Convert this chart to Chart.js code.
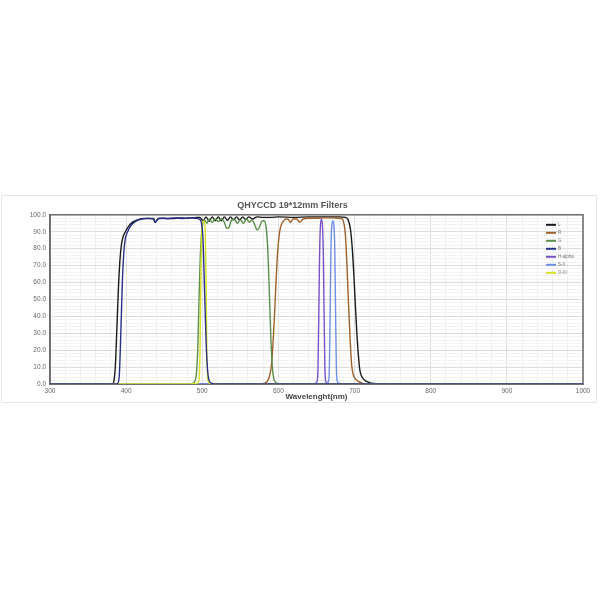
<!DOCTYPE html>
<html>
<head>
<meta charset="utf-8">
<script src="https://cdn.jsdelivr.net/npm/chart.js@4.4.1/dist/chart.umd.min.js"></script>
<style>
  html, body { margin: 0; padding: 0; background: #fff; }
  #caja { position: absolute; left: 1px; top: 195px; width: 594px; height: 206px; border: 1px solid #e4e4e4; }
  #caja canvas { display: block; }
</style>
</head>
<body>
<div id="caja"><canvas id="filtros" width="594" height="206"></canvas></div>
<script>
// Nombres de los filtros (orden de la leyenda)
const seriesNames = ['L', 'R', 'G', 'B', 'H-alpha', 'S-II', 'O-III'];
const seriesColors = ['#1a1a1a', '#a0602a', '#5a8f4a', '#27318a', '#7a52c8', '#6e8fe6', '#d6e024'];

// Curvas de transmisión: [longitud de onda (nm), transmisión (%)]
const lCurve = [[300,0],[382,0],[384,2],[386,12],[388,35],[390,58],[392,74],[394,83],[396,87],[399,90],[403,93],[408,95.5],[415,97],[425,97.8],[436,97.8],[438,95.5],[440,96.5],[443,97.8],[450,98],[460,97.8],[470,98.2],[480,98],[490,98.3],[497,98.5],[501,96.5],[505,98.8],[509,96.3],[513,98.8],[517,96.5],[521,98.8],[525,96.5],[529,98.8],[533,96.8],[537,98.8],[541,97],[545,98.8],[549,97],[553,98.8],[557,97.2],[561,98.8],[566,97.5],[572,98.8],[580,98.5],[590,98.5],[600,98.8],[620,98.5],[640,98.8],[660,98.8],[680,98.8],[688,98.5],[691,97.5],[693,95],[695,90],[697,80],[699,65],[701,47],[703,30],[705,17],[707,8],[710,4],[714,2],[719,1],[725,0.3],[732,0],[1000,0]];
const rCurve = [[300,0],[575,0],[582,0.5],[586,2],[589,6],[591,12],[593,25],[595,42],[597,62],[599,78],[601,88],[603,93],[606,96],[610,97.5],[613,97.3],[616,95.5],[619,97.5],[624,97.5],[628,95.5],[632,97.5],[640,98],[650,98],[660,98.2],[670,98.2],[680,98],[684,97.5],[686,95],[688,88],[690,70],[692,48],[694,28],[696,12],[698,6],[701,3],[705,1.5],[710,0.5],[716,0],[1000,0]];
const gCurve = [[300,0],[486,0],[489,1],[492,5],[494,20],[496,55],[498,82],[500,93],[503,97],[506,95],[509,97.5],[513,95.5],[517,97.5],[521,96],[525,97.8],[529,95.5],[532,92],[535,92.5],[538,96.5],[542,97.5],[546,95],[550,97],[554,95],[558,97.5],[562,95.5],[565,97],[569,94],[572,91],[575,92.5],[578,96],[581,96.5],[584,92],[586,80],[588,55],[590,28],[592,10],[594,3],[597,0.8],[600,0.2],[605,0],[1000,0]];
const bCurve = [[300,0],[387,0],[389,0.5],[391,5],[393,30],[395,60],[397,78],[399,86],[402,90],[406,93.5],[412,96],[420,97.5],[428,97.9],[436,97.6],[438,95.5],[440,96.5],[442,97.8],[446,98],[455,97.7],[465,98.2],[475,97.8],[485,98.3],[492,98],[496,97.5],[499,95],[501,85],[503,55],[505,25],[507,8],[509,2],[512,0.5],[516,0],[1000,0]];
const haCurve = [[300,0],[640,0],[648,0.3],[651,2],[652,10],[653,40],[654,75],[655,92],[656.5,97.5],[658,92],[659,75],[660,40],[661,10],[662,2],[665,0.3],[672,0],[1000,0]];
const siiCurve = [[300,0],[655,0],[663,0.3],[666,2],[667,12],[668,45],[669,80],[670,93],[671.5,96.5],[673,93],[674,80],[675,45],[676,12],[677,2],[680,0.3],[690,0],[1000,0]];
const oiiiCurve = [[300,0],[480,0],[493,0.3],[495.5,2],[497,20],[498,60],[499,88],[500.5,96],[502.5,96],[504,88],[505,60],[506,20],[507.5,2],[510,0.3],[520,0],[1000,0]];

const allCurves = [lCurve, rCurve, gCurve, bCurve, haCurve, siiCurve, oiiiCurve];
// Orden de dibujo: menor = encima
const drawOrder = [6, 5, 4, 0, 3, 2, 1];

const tickFont = { size: 6.5, family: 'Arial, "Liberation Sans", sans-serif' };

// Marco oscuro del área del gráfico
const marcoPlugin = {
    id: 'marco',
    beforeDatasetsDraw(chart) {
        const { ctx, chartArea: a } = chart;
        ctx.save();
        ctx.strokeStyle = '#6a6a6a';
        ctx.lineWidth = 1.5;
        ctx.strokeRect(a.left, a.top, a.right - a.left, a.bottom - a.top);
        ctx.restore();
    }
};

// Leyenda dentro del área, arriba a la derecha
const leyendaPlugin = {
    id: 'leyenda',
    afterDraw(chart) {
        const { ctx, chartArea: a } = chart;
        ctx.save();
        ctx.font = '4.5px Arial, "Liberation Sans", sans-serif';
        ctx.textBaseline = 'middle';
        chart.data.datasets.forEach((ds, i) => {
            const y = a.top + 10 + i * 8;
            ctx.strokeStyle = ds.borderColor;
            ctx.lineWidth = 2;
            ctx.beginPath();
            ctx.moveTo(a.right - 37, y);
            ctx.lineTo(a.right - 27, y);
            ctx.stroke();
            ctx.fillStyle = '#777';
            ctx.fillText(ds.label, a.right - 25, y);
        });
        ctx.restore();
    }
};

const datasets = allCurves.map((curve, i) => ({
    label: seriesNames[i],
    data: curve.map(p => ({ x: p[0], y: p[1] })),
    borderColor: seriesColors[i],
    backgroundColor: seriesColors[i],
    borderWidth: 1.4,
    pointRadius: 0,
    cubicInterpolationMode: 'monotone',
    fill: false,
    order: drawOrder[i]
}));

new Chart(document.getElementById('filtros').getContext('2d'), {
    type: 'line',
    data: { datasets: datasets },
    options: {
        responsive: false,
        animation: false,
        events: [],
        layout: { padding: { left: 0, right: 13, top: 0, bottom: 0 } },
        plugins: {
            legend: { display: false },
            tooltip: { enabled: false },
            title: {
                display: true,
                text: 'QHYCCD 19*12mm Filters',
                color: '#555',
                font: { size: 9, weight: 'bold', family: 'Arial, "Liberation Sans", sans-serif' },
                padding: { top: 4, bottom: 4 }
            }
        },
        scales: {
            x: {
                type: 'linear',
                min: 300,
                max: 1000,
                ticks: {
                    stepSize: 20,
                    autoSkip: false,
                    maxRotation: 0,
                    maxTicksLimit: 100,
                    padding: 3,
                    color: '#666',
                    font: tickFont,
                    callback: v => (v % 100 === 0 ? String(v) : '')
                },
                grid: {
                    drawTicks: false,
                    color: c => (c.tick && c.tick.value % 100 === 0 ? '#dcdcdc' : '#f0f0f0')
                },
                border: { color: '#888', width: 1 },
                title: {
                    display: true,
                    text: 'Wavelenght(nm)',
                    color: '#444',
                    font: { size: 8, weight: 'bold', family: 'Arial, "Liberation Sans", sans-serif' },
                    padding: 0
                },
                afterFit: s => { s.height = 18; }
            },
            y: {
                min: 0,
                max: 100,
                ticks: {
                    stepSize: 2,
                    autoSkip: false,
                    maxTicksLimit: 100,
                    padding: 4,
                    color: '#666',
                    font: tickFont,
                    callback: v => (v % 10 === 0 ? v.toFixed(1) : '')
                },
                grid: {
                    drawTicks: false,
                    color: c => (c.tick && c.tick.value % 10 === 0 ? '#dcdcdc' : '#f2f2f2')
                },
                border: { color: '#6a6a6a', width: 1.5 },
                afterFit: s => { s.width = 48; }
            }
        }
    },
    plugins: [marcoPlugin, leyendaPlugin]
});
</script>
</body>
</html>
